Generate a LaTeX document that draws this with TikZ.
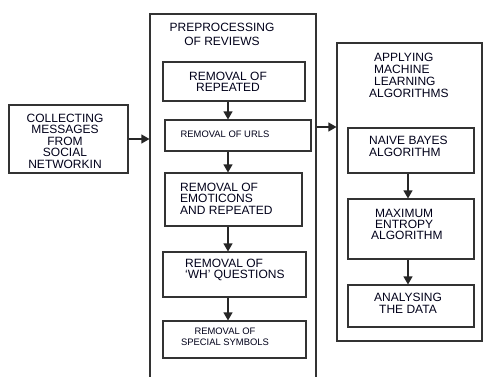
\documentclass[tikz,border=0pt]{standalone}
\usepackage{fontspec}
\setmainfont{Liberation Sans}
\usetikzlibrary{arrows.meta}
\begin{document}
\begin{tikzpicture}[x=1pt,y=-1pt,
  box/.style={draw=black!80,line width=1.1pt,inner sep=0pt,rectangle},
  txt/.style={inner sep=0pt,text=black!90!blue,font=\fontsize{12}{11.5}\selectfont},
  stxt/.style={inner sep=0pt,text=black!90!blue,font=\fontsize{9.4}{11}\selectfont},
  arr/.style={draw=black!85,line width=1.1pt,-{Triangle[length=8pt,width=9pt]}}]
\useasboundingbox (0,0) rectangle (483,376);
% boxes
\node[box,minimum width=119pt,minimum height=68pt] (collect) at (68.5,139) {};
\node[box,minimum width=166pt,minimum height=371pt] (pre) at (233,199.5) {};
\node[box,minimum width=142pt,minimum height=39pt] (b1) at (234,81.5) {};
\node[box,minimum width=146pt,minimum height=31pt] (b2) at (238,135.5) {};
\node[box,minimum width=137pt,minimum height=53pt] (b3) at (233.5,199.5) {};
\node[box,minimum width=143pt,minimum height=45pt] (b4) at (234.5,274.5) {};
\node[box,minimum width=143pt,minimum height=37pt] (b5) at (234.5,339.5) {};
\node[box,minimum width=145pt,minimum height=298pt] (ml) at (409.5,192) {};
\node[box,minimum width=126pt,minimum height=45pt] (r1) at (411,150.5) {};
\node[box,minimum width=126pt,minimum height=60pt] (r2) at (411,229) {};
\node[box,minimum width=126pt,minimum height=42pt] (r3) at (411,306) {};
% texts
\node[txt,align=center] (tcollect) at (65,141) {COLLECTING\\MESSAGES\\FROM\\SOCIAL\\NETWORKIN};
\node[txt,align=center,font=\fontsize{12}{14}\selectfont] (tpre) at (222,34) {PREPROCESSING\\OF REVIEWS};
\node[txt,align=center,font=\fontsize{12}{11}\selectfont] (tb1) at (228,81.5) {REMOVAL OF\\REPEATED};
\node[stxt] (tb2) at (225,134) {REMOVAL OF URLS};
\node[txt,align=left,anchor=west] (tb3) at (180,198.5) {REMOVAL OF\\EMOTICONS\\AND REPEATED};
\node[txt,align=left,anchor=west,font=\fontsize{12}{11}\selectfont] (tb4) at (185,269.5) {REMOVAL OF\\`WH' QUESTIONS};
\node[stxt,align=center] (tb5) at (225,336.5) {REMOVAL OF\\SPECIAL SYMBOLS};
\node[txt,align=left,anchor=west,font=\fontsize{12}{12}\selectfont] (tml) at (374,75) {APPLYING\\MACHINE\\LEARNING\\\hspace*{-5pt}ALGORITHMS};
\node[txt,align=left,anchor=west,font=\fontsize{12}{12}\selectfont] (tr1) at (369,146) {NAIVE BAYES\\ALGORITHM};
\node[txt,align=left,anchor=west,font=\fontsize{12}{11}\selectfont] (tr2) at (375,224) {MAXIMUM\\ENTROPY\\\hspace*{-4pt}ALGORITHM};
\node[txt,align=center,font=\fontsize{12}{12}\selectfont] (tr3) at (408,303) {ANALYSING\\THE DATA};
% connectors
\coordinate (ax) at (228,0);
\coordinate (rx) at (408,0);
\coordinate (y1) at (0,139);
\coordinate (y2) at (0,127);
\draw[arr] (collect.east |- y1) -- (pre.west |- y1);
\draw[arr] (pre.east |- y2) -- (ml.west |- y2);
\draw[arr] (b1.south -| ax) -- (b2.north -| ax);
\draw[arr] (b2.south -| ax) -- (b3.north -| ax);
\draw[arr] (b3.south -| ax) -- (b4.north -| ax);
\draw[arr] (b4.south -| ax) -- (b5.north -| ax);
\draw[arr] (r1.south -| rx) -- (r2.north -| rx);
\draw[arr] (r2.south -| rx) -- (r3.north -| rx);
\end{tikzpicture}
\end{document}
